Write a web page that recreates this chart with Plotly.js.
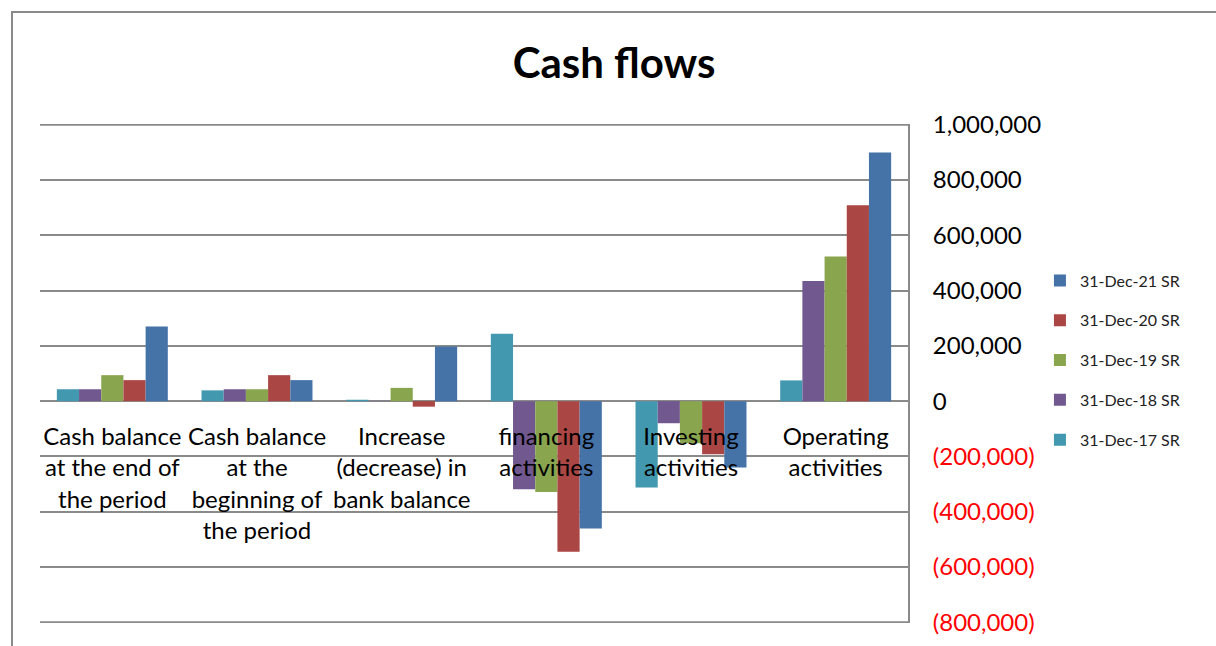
<!DOCTYPE html>
<html>
<head>
<meta charset="utf-8">
<script src="https://cdn.plot.ly/plotly-3.0.1.min.js"></script>
<style>
html,body{margin:0;padding:0;background:#fff;}
#wrap{position:relative;width:1216px;height:646px;overflow:hidden;}
#chart{width:1216px;height:646px;}
#frame{position:absolute;left:11px;top:11px;width:1400px;height:800px;border-top:2px solid #8a8a8a;border-left:2px solid #8a8a8a;pointer-events:none;}
</style>
</head>
<body>
<div id="wrap"><div id="chart"></div><div id="frame"></div></div>
<script>
const categories = [
  "Cash balance<br>at the end of<br>the period",
  "Cash balance<br>at the<br>beginning of<br>the period",
  "Increase<br>(decrease) in<br>bank balance",
  "financing<br>activities",
  "Investing<br>activities",
  "Operating<br>activities"
];
const seriesNames = ["31-Dec-17 SR","31-Dec-18 SR","31-Dec-19 SR","31-Dec-20 SR","31-Dec-21 SR"];
const dec17 = [43000, 39000, 5000, 244000, -313000, 75000];
const dec18 = [43000, 43000, 1000, -319000, -80000, 435000];
const dec19 = [94000, 43000, 48000, -329000, -152000, 523000];
const dec20 = [76000, 94000, -20000, -545000, -192000, 709000];
const dec21 = [270000, 76000, 198000, -461000, -240000, 900000];
const colors = ["#4198AF","#71588F","#89A54E","#AA4643","#4572A7"];
const tickVals = [1000000, 800000, 600000, 400000, 200000, 0, -200000, -400000, -600000, -800000];
const tickLabels = ["1,000,000","800,000","600,000","400,000","200,000","0","(200,000)","(400,000)","(600,000)","(800,000)"];

const seriesValues = [dec17, dec18, dec19, dec20, dec21];
const traces = seriesValues.map((vals, i) => ({
  type: "bar",
  name: seriesNames[i],
  x: categories,
  y: vals,
  legendgroup: "g" + i,
  legendrank: 100 - i,
  marker: {color: colors[i], line: {width: 0}}
}));

const tickText = tickVals.map((v, i) => v < 0 ? '<span style="color:#FF0000">' + tickLabels[i] + '</span>' : tickLabels[i]);

const yMin = -803000, yMax = 1003000;
const gridColor = "#8a8a8a";
const edgeTicks = [tickVals[0], tickVals[tickVals.length - 1]];

const layout = {
  width: 1216, height: 646,
  margin: {l: 40, r: 308, t: 124, b: 23},
  paper_bgcolor: "#fff", plot_bgcolor: "#fff",
  font: {family: "Lato, 'Open Sans', sans-serif", color: "#000"},
  title: {text: "<b>Cash flows</b>", x: 0.505, xanchor: "center", y: 0.902, yanchor: "middle",
          font: {family: "Lato, sans-serif", size: 42, color: "#000"}},
  barmode: "group",
  bargap: 0.233,
  bargroupgap: 0,
  showlegend: true,
  legend: {x: 1.152, xanchor: "left", y: 0.527, yanchor: "middle",
           traceorder: "grouped", tracegroupgap: 16,
           font: {family: "Lato, sans-serif", size: 16, color: "#222"},
           itemwidth: 30, bgcolor: "rgba(0,0,0,0)"},
  xaxis: {type: "category", anchor: "free", position: -yMin/(yMax - yMin), showgrid: false, showline: false,
          ticks: "", ticklabelstandoff: 19, tickfont: {size: 24, color: "#000"}, fixedrange: true},
  yaxis: {side: "right", range: [yMin, yMax], tickvals: tickVals, ticktext: tickText,
          showgrid: true, gridcolor: gridColor, gridwidth: 2,
          zeroline: true, zerolinecolor: gridColor, zerolinewidth: 2,
          showline: true, linecolor: gridColor, linewidth: 2, mirror: false,
          ticks: "", ticklabelstandoff: 18, tickfont: {size: 24, color: "#000"}},
  shapes: edgeTicks.map(v => ({type: "line", xref: "paper", yref: "y", x0: 0, x1: 1, y0: v, y1: v,
                               layer: "below", line: {color: gridColor, width: 2}}))
};

Plotly.newPlot("chart", traces, layout, {displayModeBar: false, staticPlot: true});
</script>
</body>
</html>
